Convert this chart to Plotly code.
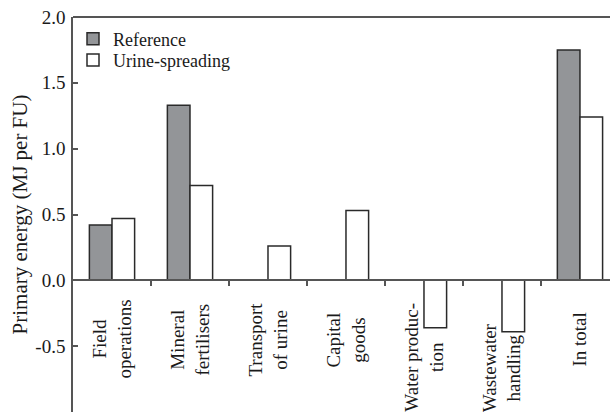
import plotly.graph_objects as go

categories = ["Field<br>operations", "Mineral<br>fertilisers", "Transport<br>of urine",
              "Capital<br>goods", "Water produc-<br>tion", "Wastewater<br>handling", "In total"]
reference = [0.42, 1.33, None, None, None, None, 1.75]
urine = [0.47, 0.72, 0.26, 0.53, -0.36, -0.39, 1.24]
y_ticks = [-0.5, 0.0, 0.5, 1.0, 1.5, 2.0]

label_y = [-0.45, -0.45, -0.45, -0.45, -0.58, -0.66, -0.45]

FONT = "Liberation Serif"
TXT = "#1a1a1a"
x_idx = list(range(len(categories)))

fig = go.Figure()
fig.add_trace(go.Bar(x=x_idx, y=reference, name="Reference", legend="legend",
                     marker=dict(color="#939598", line=dict(color="#2a2a2a", width=1.5))))
fig.add_trace(go.Bar(x=x_idx, y=urine, name="Urine-spreading", legend="legend2",
                     marker=dict(color="white", line=dict(color="#2a2a2a", width=1.5))))

for i, (lab, ly) in enumerate(zip(categories, label_y)):
    fig.add_annotation(x=i, y=ly, xref="x", yref="y", text=lab, showarrow=False,
                       textangle=-90, align="center", yanchor="middle", xanchor="center",
                       font=dict(family=FONT, size=19, color=TXT))

fig.add_shape(type="line", xref="paper", yref="paper", x0=0, x1=1, y0=1, y1=1,
              line=dict(color="#555555", width=2))

leg = dict(x=0.0, xanchor="left", yanchor="top", bgcolor="rgba(0,0,0,0)",
           font=dict(family=FONT, size=18, color=TXT), itemwidth=30)

fig.update_layout(
    width=610, height=412,
    margin=dict(l=73, r=0, t=17, b=0, autoexpand=False),
    paper_bgcolor="white", plot_bgcolor="white",
    barmode="group", bargap=0.42, bargroupgap=0,
    font=dict(family=FONT, size=18, color=TXT),
    showlegend=True,
    legend=dict(leg, y=0.991),
    legend2=dict(leg, y=0.937),
    xaxis=dict(range=[-0.5, 6.385], anchor="free", position=1/3, automargin=False,
               showline=True, linecolor="#555555", linewidth=1.5,
               tickmode="array", tickvals=[0.5, 1.5, 2.5, 3.5, 4.5, 5.5],
               showticklabels=False, ticks="outside", ticklen=5, tickwidth=1.5,
               tickcolor="#555555", showgrid=False, zeroline=False),
    yaxis=dict(range=[-1.0, 2.0], tickmode="array", tickvals=y_ticks,
               ticktext=[f"{v:.1f}" for v in y_ticks], automargin=False,
               showline=True, linecolor="#555555", linewidth=1.5,
               ticks="inside", ticklen=5, tickwidth=1.5, tickcolor="#555555",
               ticklabelstandoff=2, ticklabeloverflow="allow",
               showgrid=False, zeroline=False,
               tickfont=dict(family=FONT, size=19, color=TXT),
               title=dict(text="Primary energy (MJ per FU)", standoff=2,
                          font=dict(family=FONT, size=21, color=TXT))),
)

fig.write_html("out.html", config={"displayModeBar": False},
               post_script="document.body.style.margin='0';document.body.style.overflow='hidden';")
